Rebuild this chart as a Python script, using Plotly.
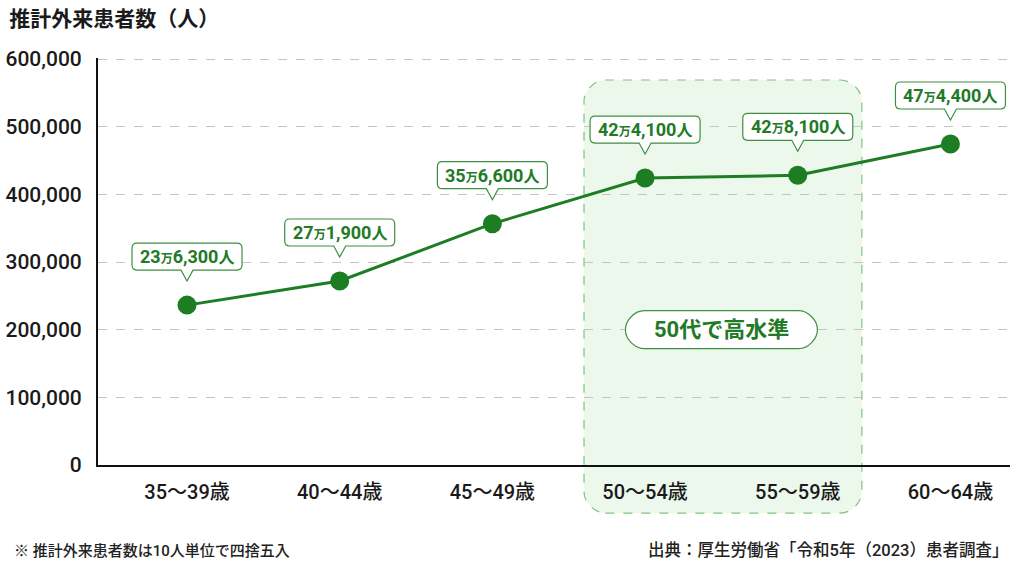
#!/usr/bin/env python3
"""Estimated outpatients by age group (line chart with callouts)."""

import plotly.graph_objects as go

# Data
age_groups = ['35～39歳', '40～44歳', '45～49歳', '50～54歳', '55～59歳', '60～64歳']
patients = [236300, 271900, 356600, 424100, 428100, 474400]
y_ticks = [0, 100000, 200000, 300000, 400000, 500000, 600000]

GREEN = '#1c7d22'
TEXT_GREEN = '#217a26'
FONT = 'Roboto, Noto Sans CJK JP, sans-serif'


def callout_label(v):
    man = v // 10000
    rest = v % 10000
    return (f"<b>{man}<span style='font-size:12px'>万</span>"
            f"{rest:,}<span style='font-size:16px'>人</span></b>")


def rounded_rect(x0, y0, x1, y1, rx, ry):
    k = 0.45
    return (f"M {x0+rx},{y0} L {x1-rx},{y0} "
            f"C {x1-rx*k},{y0} {x1},{y0+ry*(1-k)} {x1},{y0+ry} "
            f"L {x1},{y1-ry} "
            f"C {x1},{y1-ry*k} {x1-rx*(1-k)},{y1} {x1-rx},{y1} "
            f"L {x0+rx},{y1} "
            f"C {x0+rx*k},{y1} {x0},{y1-ry*(1-k)} {x0},{y1-ry} "
            f"L {x0},{y0+ry} "
            f"C {x0},{y0+ry*k} {x0+rx*(1-k)},{y0} {x0+rx},{y0} Z")


xs = list(range(len(age_groups)))

fig = go.Figure()
fig.add_trace(go.Scatter(
    x=xs, y=patients, mode='lines+markers',
    line=dict(color=GREEN, width=3),
    marker=dict(color=GREEN, size=19),
    hoverinfo='skip', showlegend=False,
))

shapes = []
annotations = []

# highlight box around 50s
shapes.append(dict(
    type='path', xref='x', yref='paper', layer='below',
    path=rounded_rect(2.6, -0.118, 4.42, 0.946, 0.14, 0.052),
    line=dict(color='#7cc47c', width=1.2, dash='dash'),
    fillcolor='rgba(222,242,222,0.55)',
))

# callouts (box + pointer) for each point
w, r = 55, 5
b, t, tip = 35, 62, 24
callout_path = (f"M {-w+r},{b} L -6,{b} L 0,{tip} L 6,{b} L {w-r},{b} "
                f"Q {w},{b} {w},{b+r} L {w},{t-r} Q {w},{t} {w-r},{t} "
                f"L {-w+r},{t} Q {-w},{t} {-w},{t-r} L {-w},{b+r} Q {-w},{b} {-w+r},{b} Z")
for x, v in zip(xs, patients):
    shapes.append(dict(
        type='path', xref='x', yref='y',
        xsizemode='pixel', ysizemode='pixel', xanchor=x, yanchor=v,
        path=callout_path,
        line=dict(color='#3f8f43', width=1.2), fillcolor='white',
    ))
    annotations.append(dict(
        x=x, y=v, xref='x', yref='y', showarrow=False,
        yshift=(b + t) / 2, text=callout_label(v),
        font=dict(family=FONT, size=18, color=TEXT_GREEN),
    ))

# "50代で高水準" pill
shapes.append(dict(
    type='path', xref='x', yref='y',
    xsizemode='pixel', ysizemode='pixel', xanchor=3.5, yanchor=200000,
    path=rounded_rect(-96, -19, 96, 19, 19, 19),
    line=dict(color='#3f8f43', width=1.2), fillcolor='white',
))
annotations.append(dict(
    x=3.5, y=200000, xref='x', yref='y', showarrow=False,
    text='<b>50代で高水準</b>',
    font=dict(family=FONT, size=22, color=TEXT_GREEN),
))

# footnotes
annotations.append(dict(
    x=-0.094, y=-0.211, xref='paper', yref='paper', xanchor='left', yanchor='middle',
    showarrow=False, text='※ 推計外来患者数は10人単位で四捨五入',
    font=dict(family=FONT, size=15, color='#222222', weight=500),
))
annotations.append(dict(
    x=1.0, y=-0.211, xref='paper', yref='paper', xanchor='right', yanchor='middle',
    showarrow=False, text='出典：厚生労働省「令和5年（2023）患者調査」',
    font=dict(family=FONT, size=16.5, color='#222222', weight=500),
))

fig.update_layout(
    width=1024, height=576,
    margin=dict(l=98, r=14, t=58, b=111),
    paper_bgcolor='white', plot_bgcolor='white',
    font=dict(family=FONT, color='#1a1a1a'),
    title=dict(text='<b>推計外来患者数（人）</b>', xref='container', yref='container',
               x=0.009, xanchor='left', y=0.967, yanchor='middle', automargin=False,
               font=dict(family=FONT, size=21, color='#1a1a1a')),
    shapes=shapes, annotations=annotations,
    xaxis=dict(
        range=[-0.583, 5.39], tickvals=xs, ticktext=age_groups, automargin=False,
        showgrid=False, zeroline=False, showline=True, linecolor='#111111', linewidth=2,
        ticks='', ticklabelstandoff=8,
        tickfont=dict(family=FONT, size=20, color='#1a1a1a', weight=500),
    ),
    yaxis=dict(
        range=[0, 601500], tickvals=y_ticks, tickformat=',', automargin=False,
        showgrid=True, gridcolor='#c4c4c4', griddash='dash', gridwidth=1,
        zeroline=False, showline=True, linecolor='#111111', linewidth=2,
        ticks='', ticklabelstandoff=10,
        tickfont=dict(family=FONT, size=21, color='#1a1a1a', weight=500),
    ),
)

# the page's default body margin would shift the figure by 8px
fig.write_html("out.html", config={'displayModeBar': False},
               post_script="document.body.style.margin = '0';")
